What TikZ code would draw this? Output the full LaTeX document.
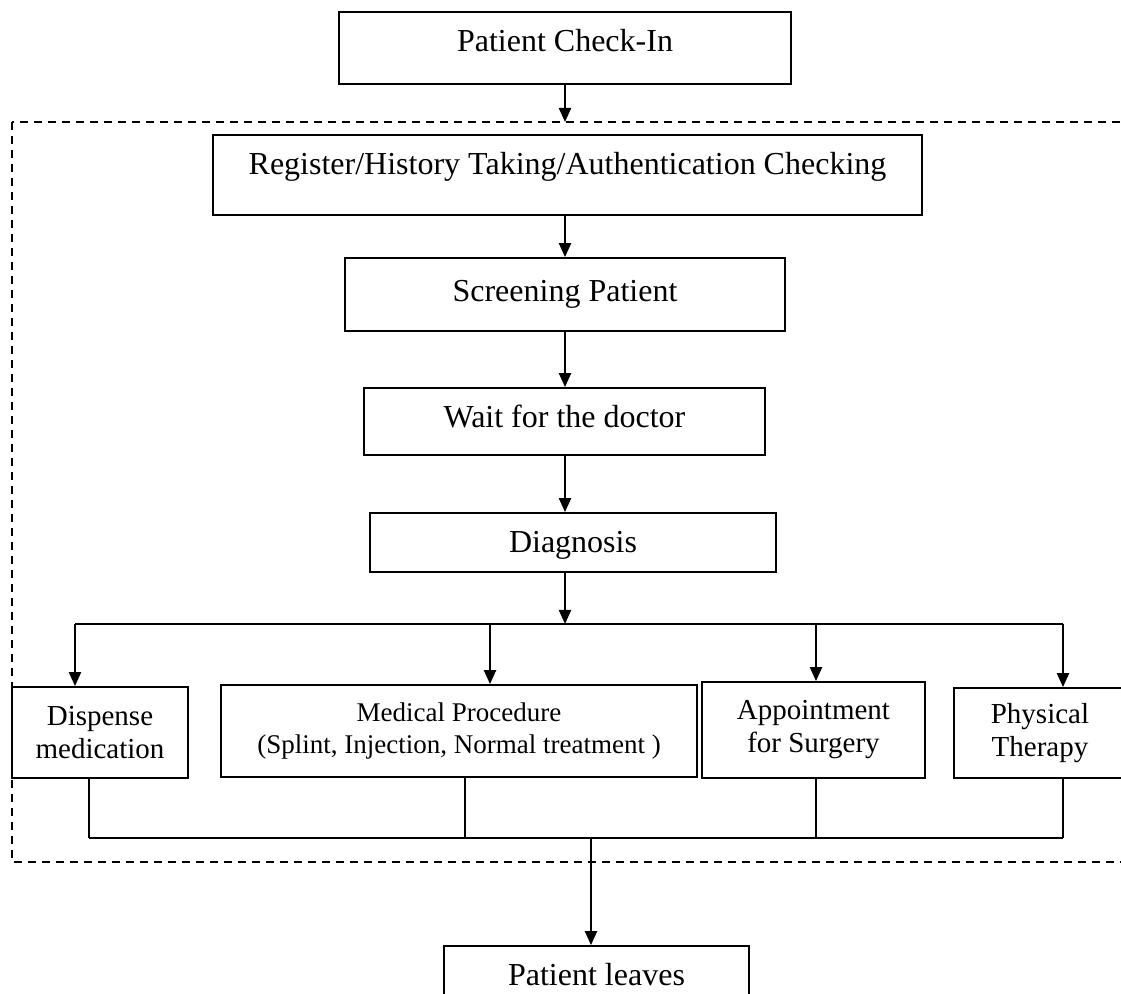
\documentclass[tikz,border=0pt]{standalone}
\usepackage{fontspec}
\setmainfont{Liberation Serif}
\usetikzlibrary{arrows.meta}
\begin{document}
\begin{tikzpicture}[x=0.5pt,y=-0.5pt,>={Triangle[length=7pt,width=6pt]}]
        \tikzstyle{step box}=[draw,line width=0.9pt,inner sep=0pt,text height=11pt,font=\fontsize{16}{19}\selectfont]
        \tikzstyle{task box}=[draw,line width=0.9pt,inner sep=0pt,align=center,font=\fontsize{14.5}{16.5}\selectfont]
        \tikzstyle{arr}=[->,line width=1.1pt]
        \tikzstyle{joinline}=[line width=0.8pt]
        \useasboundingbox (0,0) rectangle (1121,994);
        \clip (0,0) rectangle (1121,994);
       \begin{scope}
         % main chain
         \node [step box,minimum width=226pt,minimum height=36pt,text depth=7pt] (checkin) at (565,48) {Patient Check-In};
         \node [step box,minimum width=354.5pt,minimum height=40pt,text depth=11pt] (register) at (567.5,175) {Register/History Taking/Authentication Checking};
         \node [step box,minimum width=220pt,minimum height=36.5pt,text depth=3.5pt] (screening) at (565,294.5) {Screening Patient};
         \node [step box,minimum width=200.5pt,minimum height=33.5pt,text depth=4.5pt] (waitdoc) at (564.5,421.5) {Wait for the doctor};
         \node [step box,minimum width=203pt,minimum height=29.5pt,text depth=0.5pt] (diagnosis) at (573,542.5) {Diagnosis};
         % treatments
         \node [task box,minimum width=88pt,minimum height=45.5pt] (dispense) at (100,732.5) {Dispense\\medication};
         \node [task box,minimum width=238pt,minimum height=46pt,font=\fontsize{13.5}{16}\selectfont] (procedure) at (459,731) {Medical Procedure\\(Splint, Injection, Normal treatment )};
         \node [task box,minimum width=111.5pt,minimum height=48pt] (surgery) at (813.5,730) {Appointment\\for Surgery};
         \node [task box,minimum width=86pt,minimum height=45pt] (therapy) at (1040,733) {Physical\\Therapy};
         \node [step box,minimum width=152.5pt,minimum height=34pt,text depth=5.5pt] (leaves) at (596.5,980) {Patient leaves};
         % clinic frame
         \draw [line width=0.8pt,dash pattern=on 4pt off 3pt] (12,122) rectangle (1135,862);
         \coordinate (ftop) at (565,122);
         \coordinate (split) at (565,624);
         \coordinate (d1) at (75,624);
         \coordinate (d2) at (490,624);
         \coordinate (d3) at (816,624);
         \coordinate (d4) at (1063,624);
         \coordinate (j1) at (89,838);
         \coordinate (j2) at (465,838);
         \coordinate (j3) at (816,838);
         \coordinate (j4) at (1063,838);
         \coordinate (jm) at (591,838);
         \draw [arr] (checkin.south -| ftop) -- (ftop);
         \draw [arr] (register.south -| screening.north) -- (screening.north);
         \draw [arr] (screening.south) -- (waitdoc.north -| screening.south);
         \draw [arr] (waitdoc.south -| split) -- (diagnosis.north -| split);
         \draw [arr] (diagnosis.south -| split) -- (split);
         \draw [line width=1pt] (d1) -- (d4);
         \draw [arr] (d1) -- (dispense.north -| d1);
         \draw [arr] (d2) -- (procedure.north -| d2);
         \draw [arr] (d3) -- (surgery.north -| d3);
         \draw [arr] (d4) -- (therapy.north -| d4);
         \draw [joinline] (dispense.south -| j1) -- (j1);
         \draw [joinline] (procedure.south -| j2) -- (j2);
         \draw [joinline] (surgery.south -| j3) -- (j3);
         \draw [joinline] (therapy.south -| j4) -- (j4);
         \draw [line width=1pt] (j1) -- (j4);
         \draw [arr] (jm) -- (leaves.north -| jm);
        \end{scope}
      \end{tikzpicture}
\end{document}
